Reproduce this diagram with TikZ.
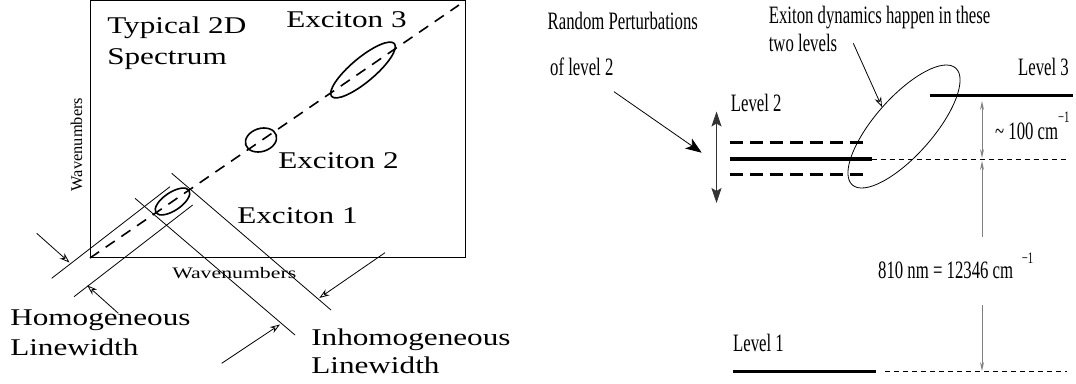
\documentclass[tikz,border=0pt]{standalone}
\usepackage{fontspec}
\setmainfont{Liberation Serif}
\usetikzlibrary{arrows.meta,shapes.geometric}
\definecolor{arrgray}{gray}{0.5}
\begin{document}
\begin{tikzpicture}[x=1pt,y=-1pt,
  thinln/.style={line width=0.8pt},
  lbl/.style={font=\fontsize{24}{24}\selectfont, xscale=1.3, inner sep=0pt, anchor=base west},
  rlbl/.style={font=\fontsize{25}{25}\selectfont, xscale=0.67, inner sep=0pt, anchor=base west},
  openarr/.style={line width=0.8pt, -{Stealth[open,length=10pt,width=7pt]}},
  bigarr/.style={line width=0.8pt, -{Stealth[length=16pt,width=12pt,inset=4pt]}},
  dblarr/.style={line width=0.8pt, draw=black!80, {Stealth[length=15pt,width=10pt,inset=3pt]}-{Stealth[length=15pt,width=10pt,inset=3pt]}},
  grayline/.style={line width=0.8pt, draw=arrgray},
  gtip/.style={Stealth[open,length=9pt,width=4pt]},
  excell/.style={draw, ellipse, line width=1.6pt, inner sep=0pt},
  diagdash/.style={line width=1.6pt, dash pattern=on 11pt off 8pt},
  level/.style={line width=3.4pt},
  leveldash/.style={line width=3.2pt, dash pattern=on 13pt off 7pt},
  thindash/.style={line width=0.8pt, dash pattern=on 5pt off 4pt}
]
\useasboundingbox (0,0) rectangle (1076,383);

% ---------------- left panel ----------------
\node[draw, thinln, minimum width=375pt, minimum height=257pt, anchor=south west, inner sep=0pt] (box) at (90,258) {};
\coordinate (dend) at (459,5);
\draw[diagdash] (box.south west) -- (dend);

\node[excell, minimum width=82pt, minimum height=24pt, rotate=40] (ex3) at (363,70) {};
\node[excell, minimum width=32pt, minimum height=23pt, rotate=18] (ex2) at (261,140) {};
\node[excell, minimum width=40pt, minimum height=18pt, rotate=34] (ex1) at (172.5,201.5) {};

\node[lbl] (t1) at (107,33) {Typical 2D};
\node[lbl] (t2) at (107,64) {Spectrum};
\node[lbl] (e3) at (286,27) {Exciton 3};
\node[lbl] (e2) at (278,168) {Exciton 2};
\node[lbl] (e1) at (237,223) {Exciton 1};
\node[font=\fontsize{16.4}{16.4}\selectfont, inner sep=0pt, rotate=90] (wvv) at (76.5,144.5) {Wavenumbers};
\node[font=\fontsize{16}{16}\selectfont, xscale=1.36, inner sep=0pt, anchor=base west] (wvh) at (172,278) {Wavenumbers};
\node[lbl] (h1) at (10,325.7) {Homogeneous};
\node[lbl] (h2) at (10,355) {Linewidth};
\node[lbl] (i1) at (311,345) {Inhomogeneous};
\node[lbl] (i2) at (311,373) {Linewidth};

% width guide lines
\coordinate (A1) at (51.7,278.3);  \coordinate (A2) at (170,186.7);
\coordinate (B1) at (74,296.7);    \coordinate (B2) at (192.7,205);
\coordinate (C1) at (135,198.3);   \coordinate (C2) at (295,335);
\coordinate (D1) at (171.7,173.3); \coordinate (D2) at (331,310);
\draw[thinln] (A1) -- (A2);
\draw[thinln] (B1) -- (B2);
\draw[thinln] (C1) -- (C2);
\draw[thinln] (D1) -- (D2);

% width arrows
\coordinate (H1s) at (36.7,233.3);  \coordinate (H1e) at (69.5,262.5);
\coordinate (H2s) at (118.3,313.3); \coordinate (H2e) at (87.3,285.5);
\coordinate (I1s) at (385,252.7);   \coordinate (I1e) at (319.3,298);
\coordinate (I2s) at (221.7,363.3); \coordinate (I2e) at (280,324.5);
\draw[openarr] (H1s) -- (H1e);
\draw[openarr] (H2s) -- (H2e);
\draw[openarr] (I1s) -- (I1e);
\draw[openarr] (I2s) -- (I2e);

% ---------------- right panel ----------------
\node[rlbl] (rp1) at (547.5,29.3) {Random Perturbations};
\node[rlbl] (rp2) at (550,75) {of level 2};
\node[rlbl] (ed1) at (768.7,23.5) {Exiton dynamics happen in these};
\node[rlbl] (ed2) at (768.7,51.7) {two levels};
\node[rlbl] (lv3) at (1018,75.5) {Level 3};
\node[rlbl] (lv2) at (730.7,111.7) {Level 2};
\node[rlbl] (lv1) at (733,351) {Level 1};
\node[rlbl] (gap1) at (995,139) {\textasciitilde{} 100 cm\raisebox{17pt}{\fontsize{16}{16}\selectfont −1}};
\node[rlbl] (gap2) at (878,278) {810 nm = 12346 cm\hspace{13pt}\raisebox{15pt}{\fontsize{16}{16}\selectfont −1}};

% levels
\coordinate (L3a) at (930,95.7);  \coordinate (L3b) at (1073,95.7);
\coordinate (L2a) at (730,159);   \coordinate (L2b) at (871.7,159); \coordinate (L2c) at (1067,159);
\coordinate (L2ua) at (730,142.7); \coordinate (L2ub) at (867,142.7);
\coordinate (L2da) at (730,174.3); \coordinate (L2db) at (867,174.3);
\coordinate (L1a) at (733,371.7);  \coordinate (L1b) at (876,371.7);
\coordinate (L1c) at (885,371.7);  \coordinate (L1d) at (1067,371.7);
\draw[level] (L3a) -- (L3b);
\draw[level] (L2a) -- (L2b);
\draw[thindash] (L2b) -- (L2c);
\draw[leveldash] (L2ua) -- (L2ub);
\draw[leveldash] (L2da) -- (L2db);
\draw[level, line width=3.2pt] (L1a) -- (L1b);
\draw[thindash] (L1c) -- (L1d);

% dynamics ellipse
\node[draw, ellipse, thinln, minimum width=156pt, minimum height=58pt, inner sep=0pt, rotate=48.5] (dyn) at (904,126.5) {};
\coordinate (eds) at (853.3,43.3);
\draw[openarr] (eds) -- (dyn.north);

% perturbation arrows
\coordinate (rps) at (614,91.7);
\coordinate (rpe) at (701.7,152.7);
\draw[bigarr] (rps) -- (rpe);
\coordinate (pt) at (716.5,111.5);
\coordinate (pb) at (716.5,203);
\draw[dblarr] (pt) -- (pb);

% energy gap arrows
\coordinate (g1) at (982,101);
\coordinate (g2) at (982,158);
\coordinate (g3) at (982,161);
\coordinate (g4) at (982,237);
\coordinate (g5) at (982,305);
\coordinate (g6) at (982,371);
\draw[grayline, {Stealth[open,length=9pt,width=4pt]}-{Stealth[open,length=9pt,width=4pt]}] (g1) -- (g2);
\draw[grayline, {Stealth[open,length=9pt,width=4pt]}-] (g3) -- (g4);
\draw[grayline, -{Stealth[open,length=9pt,width=4pt]}] (g5) -- (g6);
\end{tikzpicture}
\end{document}
